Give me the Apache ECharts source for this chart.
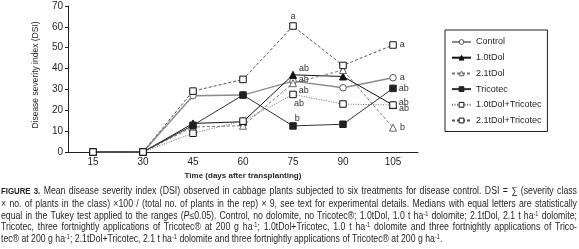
<!DOCTYPE html>
<html>
<head>
<meta charset="utf-8">
<title>DSI</title>
<style>
    html, body { margin: 0; padding: 0; background: #fff; overflow: hidden; }
    #chart { position: absolute; left: 0; top: 0; width: 579px; height: 249px; }
    /* pie de figura: fuente estrecha simulada con scaleX */
    #caption {
        position: absolute; left: 1px; top: 185px; width: 662px;
        transform: scaleX(0.87); transform-origin: 0 0;
        font-family: 'Liberation Sans', sans-serif;
        font-size: 10px; line-height: 11.8px; color: #231f20;
    }
    #caption div { text-align: justify; text-align-last: justify; }
    #caption div.last { text-align-last: left; }
    #caption b { font-size: 9px; }
    #caption sup { font-size: 6.5px; line-height: 0; vertical-align: 3px; }
</style>
</head>
<body>
<div id="chart"></div>
<div id="caption">
    <div><b>FIGURE 3.</b> Mean disease severity index (DSI) observed in cabbage plants subjected to six treatments for disease control. DSI = ∑ (severity class</div>
    <div>× no. of plants in the class) ×100 / (total no. of plants in the rep) × 9, see text for experimental details. Medians with equal letters are statistically</div>
    <div>equal in the Tukey test applied to the ranges (<i>P</i>≤0.05). Control, no dolomite, no Tricotec®; 1.0tDol, 1.0 t ha<sup>-1</sup> dolomite; 2.1tDol, 2.1 t ha<sup>-1</sup> dolomite;</div>
    <div>Tricotec, three fortnightly applications of Tricotec® at 200 g ha<sup>-1</sup>; 1.0tDol+Tricotec, 1.0 t ha<sup>-1</sup> dolomite and three fortnightly applications of Trico-</div>
    <div class="last">tec® at 200 g ha<sup>-1</sup>; 2.1tDol+Tricotec, 2.1 t ha<sup>-1</sup> dolomite and three fortnightly applications of Tricotec® at 200 g ha<sup>-1</sup>.</div>
</div>
<script src="https://cdn.jsdelivr.net/npm/echarts@6/dist/echarts.min.js"></script>
<script>
    // dias despues del trasplante
    var days = ['15', '30', '45', '60', '75', '90', '105'];
    var names = ['Control', '1.0tDol', '2.1tDol', 'Tricotec', '1.0tDol+Tricotec', '2.1tDol+Tricotec'];

    var control = [0, 0, 27, 27.3, 34, 30.8, 35.6];
    var dol10 = [0, 0, 13.7, 14.5, 37, 36.2, 22.5];
    var dol21 = [0, 0, 12, 12.6, 33, 39.3, 11.7];
    var tricotec = [0, 0, 12.8, 27.3, 12.5, 13.3, 30.5];
    var dol10Tri = [0, 0, 9, 14.8, 27.6, 23, 22.5];
    var dol21Tri = [0, 0, 29.2, 34.8, 60.4, 41.5, 51.3];

    // letras de Tukey a los 75 y 105 dias (mismo orden que names)
    var letters75 = ['ab', 'ab', 'ab', 'b', 'ab', 'a'];
    var letters105 = ['a', 'ab', 'b', 'ab', 'ab', 'a'];

    var values = [control, dol10, dol21, tricotec, dol10Tri, dol21Tri];
    var ink = '#231f20';
    var font = "'Liberation Sans', sans-serif";

    // estilo de cada serie
    var styles = [
        { symbol: 'circle', fill: '#fff', border: '#555', line: '#8a8a8a', type: 'solid', width: 1.4 },
        { symbol: 'triangle', fill: '#111', border: '#111', line: '#111', type: 'solid', width: 1 },
        { symbol: 'triangle', fill: '#fff', border: '#666', line: '#777', type: [3, 2], width: 1 },
        { symbol: 'rect', fill: '#222', border: '#222', line: '#333', type: 'solid', width: 1 },
        { symbol: 'rect', fill: '#fff', border: '#111', line: '#666', type: [1, 1.5], width: 1 },
        { symbol: 'rect', fill: '#fff', border: '#111', line: '#555', type: [3, 2], width: 1 }
    ];
    // donde va cada letra (75 dias, 105 dias)
    var pos75 = [
        { position: 'right', distance: 2, offset: [0, -2] },
        { position: 'right', distance: 2, offset: [0, -6] },
        { position: 'right', distance: 0, offset: [-3, 20] },
        { position: 'right', distance: 0, offset: [-2, -7] },
        { position: 'right', distance: 2, offset: [0, -4] },
        { position: 'top', distance: 1, offset: [0, 0] }
    ];
    var pos105 = [
        { position: 'right', distance: 3, offset: [0, 0] },
        { position: 'right', distance: 2, offset: [0, 3] },
        { position: 'right', distance: 3, offset: [0, 0] },
        { position: 'right', distance: 2, offset: [0, 0] },
        { position: 'right', distance: 2, offset: [0, -3] },
        { position: 'right', distance: 3, offset: [0, 0] }
    ];

    var series = names.map(function (name, i) {
        var st = styles[i];
        var data = values[i].map(function (v, j) {
            var item = { value: v };
            var txt = j === 4 ? letters75[i] : (j === 6 ? letters105[i] : null);
            if (txt) {
                var p = j === 4 ? pos75[i] : pos105[i];
                item.label = {
                    show: true, formatter: txt, position: p.position, distance: p.distance,
                    offset: p.offset, color: '#333', fontSize: 9, fontFamily: font
                };
            }
            return item;
        });
        return {
            name: name,
            type: 'line',
            data: data,
            symbol: st.symbol,
            symbolSize: st.symbol === 'triangle' ? 7 : 6.5,
            showAllSymbol: true,
            animation: false,
            lineStyle: { color: st.line, width: st.width, type: st.type },
            itemStyle: { color: st.fill, borderColor: st.border, borderWidth: 1 },
            label: { show: false }
        };
    });

    var myChart = echarts.init(document.getElementById('chart'));
    var option = {
        animation: false,
        grid: { left: 68, right: 161, top: 6, bottom: 97 },
        legend: {
            orient: 'vertical',
            left: 445,
            top: 30,
            data: names,
            borderColor: ink,
            borderWidth: 1,
            padding: [7, 6, 6, 6],
            itemWidth: 19,
            itemHeight: 6,
            itemGap: 5.7,
            itemStyle: { borderWidth: 1 },
            textStyle: { color: ink, fontSize: 9, lineHeight: 10, fontFamily: font }
        },
        xAxis: {
            type: 'category',
            data: days,
            name: 'Time (days after transplanting)',
            nameLocation: 'middle',
            nameGap: 15,
            nameTextStyle: { color: ink, fontSize: 8, fontWeight: 'bold', fontFamily: font },
            axisLine: { lineStyle: { color: ink, width: 1 } },
            axisTick: { length: 3, lineStyle: { color: ink } },
            axisLabel: { color: ink, fontSize: 10, fontFamily: font, margin: 5 }
        },
        yAxis: {
            type: 'value',
            min: 0,
            max: 70,
            interval: 10,
            name: 'Disease severity index (DSI)',
            nameLocation: 'middle',
            nameRotate: 90,
            nameGap: 28,
            nameTextStyle: { color: ink, fontSize: 8.5, fontFamily: font, padding: [0, 0, 0, 8] },
            axisLine: { show: true, lineStyle: { color: ink, width: 1 } },
            axisTick: { show: true, length: 3, lineStyle: { color: ink } },
            splitLine: { show: false },
            axisLabel: { color: ink, fontSize: 10, fontFamily: font, margin: 5 }
        },
        series: series
    };
    myChart.setOption(option, true);
</script>
</body>
</html>
